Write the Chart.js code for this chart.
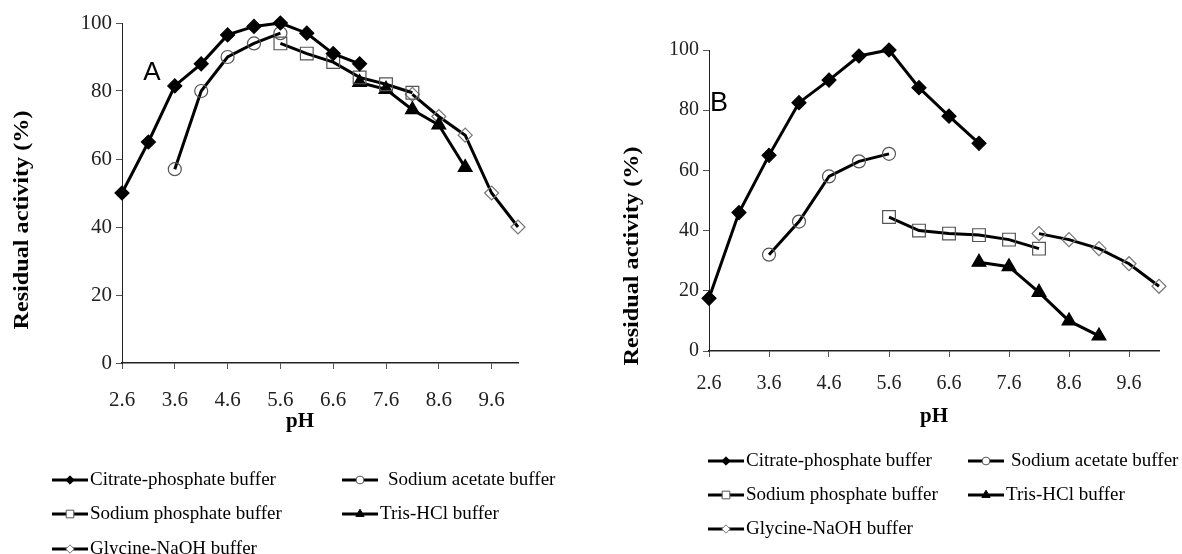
<!DOCTYPE html>
<html>
<head>
<meta charset="utf-8">
<script src="https://cdn.jsdelivr.net/npm/chart.js@4.4.1/dist/chart.umd.min.js"></script>
<style>
  body { margin: 0; background: #fff; width: 1182px; height: 554px; overflow: hidden; position: relative; }
  canvas { position: absolute; top: 0; }
</style>
</head>
<body>
<canvas id="chartA" width="590" height="554" style="left:0"></canvas>
<canvas id="chartB" width="592" height="554" style="left:590px"></canvas>
<script>
// Datos: pH de cada tampón
const citratePH   = [2.6, 3.1, 3.6, 4.1, 4.6, 5.1, 5.6, 6.1, 6.6, 7.1];
const acetatePH   = [3.6, 4.1, 4.6, 5.1, 5.6];
const phosphatePH = [5.6, 6.1, 6.6, 7.1, 7.6, 8.1];
const trisPH      = [7.1, 7.6, 8.1, 8.6, 9.1];
const glycinePH   = [8.1, 8.6, 9.1, 9.6, 10.1];

// Panel A - actividad residual (%)
const citrateA   = [50, 65, 81.5, 88, 96.5, 99, 100, 97, 91, 88];
const acetateA   = [57, 80, 90, 94, 97];
const phosphateA = [94, 91, 88.5, 84, 82, 79.5];
const trisA      = [82.5, 80.5, 74.5, 70, 57.5];
const glycineA   = [79, 72.5, 67, 50, 40];

// Panel B - actividad residual (%)
const citrateB   = [17.5, 46, 65, 82.5, 90, 98, 100, 87.5, 78, 69];
const acetateB   = [32, 43, 58, 63, 65.5];
const phosphateB = [44.5, 40, 39, 38.5, 37, 34];
const trisB      = [29.5, 28, 19.5, 10, 5];
const glycineB   = [39, 37, 34, 29, 21.5];

const seriesNames = ['Citrate-phosphate buffer', 'Sodium acetate buffer', 'Sodium phosphate buffer', 'Tris-HCl buffer', 'Glycine-NaOH buffer'];
const xTicks = [2.6, 3.6, 4.6, 5.6, 6.6, 7.6, 8.6, 9.6];
const yTicks = [0, 20, 40, 60, 80, 100];

const SERIF = 'Liberation Serif, Times New Roman, serif';

const markers = [
  { pointStyle: 'rectRot',  radius: 7,   fill: '#000', stroke: '#000' },
  { pointStyle: 'circle',   radius: 6.5, fill: 'transparent', stroke: '#555' },
  { pointStyle: 'rect',     radius: 9,   fill: 'transparent', stroke: '#555' },
  { pointStyle: 'triangle', radius: 8,   fill: '#000', stroke: '#000' },
  { pointStyle: 'rectRot',  radius: 7,   fill: 'transparent', stroke: '#777' }
];

function makeDatasets(series) {
  const phs = [citratePH, acetatePH, phosphatePH, trisPH, glycinePH];
  return series.map((vals, i) => ({
    label: seriesNames[i],
    data: vals.map((v, j) => ({ x: phs[i][j], y: v })),
    borderColor: '#000',
    borderWidth: 3,
    tension: 0,
    fill: false,
    clip: false,
    pointStyle: markers[i].pointStyle,
    pointRadius: markers[i].radius,
    pointBackgroundColor: markers[i].fill,
    pointBorderColor: markers[i].stroke,
    pointBorderWidth: 1.2
  }));
}

// Leyenda, letra del panel y títulos de ejes
const decorPlugin = {
  id: 'decor',
  afterDraw(chart, args, o) {
    const ctx = chart.ctx;
    ctx.save();
    ctx.fillStyle = '#000';
    ctx.textBaseline = 'middle';

    // letra del panel
    ctx.font = o.letterSize + 'px Liberation Sans, Arial, sans-serif';
    ctx.textAlign = 'center';
    ctx.fillText(o.letter, o.letterPos[0], o.letterPos[1]);

    // título eje x
    ctx.font = 'bold 21px ' + SERIF;
    ctx.fillText('pH', o.xTitle[0], o.xTitle[1]);

    // título eje y (un poco estirado, como en la figura original)
    ctx.save();
    ctx.font = 'bold 22px ' + SERIF;
    ctx.translate(o.yTitle[0], o.yTitle[1]);
    ctx.rotate(-Math.PI / 2);
    ctx.scale(1.1, 1);
    ctx.fillText('Residual activity (%)', 0, 0);
    ctx.restore();

    // leyenda
    ctx.font = o.legendSize + 'px ' + SERIF;
    ctx.textAlign = 'left';
    chart.data.datasets.forEach((ds, i) => {
      const [x, y] = o.legend[i];
      ctx.strokeStyle = '#000';
      ctx.lineWidth = 3;
      ctx.beginPath();
      ctx.moveTo(x, y);
      ctx.lineTo(x + 36, y);
      ctx.stroke();
      ctx.fillStyle = markers[i].fill === 'transparent' ? '#fff' : markers[i].fill;
      ctx.strokeStyle = markers[i].stroke;
      ctx.lineWidth = 1;
      Chart.helpers.drawPoint(ctx, { pointStyle: ds.pointStyle, radius: markers[i].radius * 0.6, borderWidth: 1, rotation: 0 }, x + 18, y);
      ctx.fillStyle = '#000';
      ctx.fillText(ds.label, x + 38 + (o.shift[i] || 0), y);
    });
    ctx.restore();
  }
};

function makeChart(id, series, lay) {
  return new Chart(document.getElementById(id), {
    type: 'line',
    data: { datasets: makeDatasets(series) },
    plugins: [decorPlugin],
    options: {
      responsive: false,
      animation: false,
      layout: { padding: { left: 0, top: lay.top, right: lay.right, bottom: 0 } },
      plugins: {
        legend: { display: false },
        tooltip: { enabled: false },
        decor: lay.decor
      },
      scales: {
        x: {
          type: 'linear',
          min: 2.6,
          max: 10.1,
          afterBuildTicks: s => { s.ticks = xTicks.map(v => ({ value: v })); },
          afterFit: s => { s.height = lay.xHeight; },
          border: { display: true, color: '#222', width: 1.5 },
          grid: { drawOnChartArea: false, drawTicks: true, tickLength: 6, color: '#555' },
          ticks: {
            padding: lay.xPad,
            color: '#222',
            font: { family: SERIF, size: lay.tickSize },
            callback: v => v.toFixed(1)
          }
        },
        y: {
          min: 0,
          max: 100,
          afterBuildTicks: s => { s.ticks = yTicks.map(v => ({ value: v })); },
          afterFit: s => { s.width = lay.yWidth; },
          border: { display: true, color: '#222', width: 1 },
          grid: { drawOnChartArea: false, drawTicks: true, tickLength: 6, color: '#555' },
          ticks: {
            padding: 4,
            color: '#222',
            font: { family: SERIF, size: lay.tickSize }
          }
        }
      }
    }
  });
}

makeChart('chartA', [citrateA, acetateA, phosphateA, trisA, glycineA], {
  top: 23, right: 72, xHeight: 191, yWidth: 122, xPad: 19, tickSize: 21,
  decor: {
    letter: 'A', letterSize: 26, letterPos: [152, 73],
    xTitle: [300, 422], yTitle: [22, 220],
    legendSize: 19, shift: [0, 8, 0, 0, 0],
    legend: [[52, 480], [342, 480], [52, 514], [342, 514], [52, 549]]
  }
});

makeChart('chartB', [citrateB, acetateB, phosphateB, trisB, glycineB], {
  top: 50, right: 23, xHeight: 203, yWidth: 119, xPad: 15, tickSize: 20,
  decor: {
    letter: 'B', letterSize: 27, letterPos: [129, 104],
    xTitle: [344, 417], yTitle: [42, 256],
    legendSize: 19, shift: [0, 5, 0, 0, 0],
    legend: [[118, 461], [378, 461], [118, 495], [378, 495], [118, 529]]
  }
});
</script>
</body>
</html>
